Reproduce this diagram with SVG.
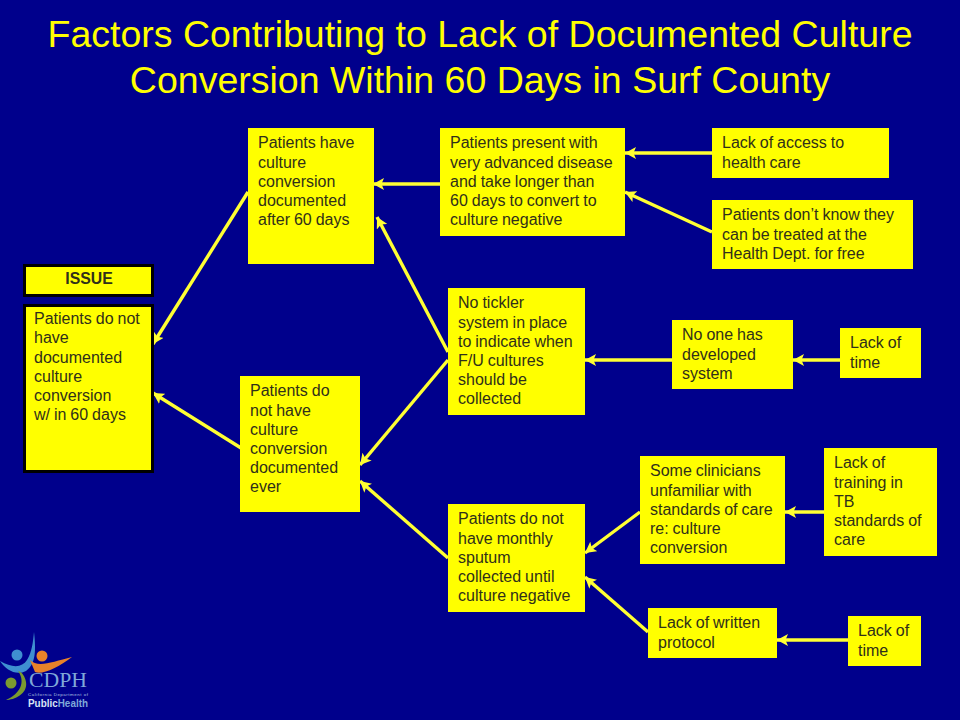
<svg xmlns="http://www.w3.org/2000/svg" width="960" height="720" viewBox="0 0 960 720">
<style>
text{font-family:"Liberation Sans",Arial,sans-serif}
.t{font-size:37.500px;fill:#ffff00;text-anchor:middle}
.b{fill:#ffff00}
.s{fill:#ffff00;stroke:#000;stroke-width:3}
.l{font-size:16px;fill:#30301a;word-spacing:-0.500px}
.c line{stroke:#ffff33;stroke-width:3.400;marker-end:url(#a)}
</style>
<defs><marker id="a" markerUnits="userSpaceOnUse" markerWidth="12" markerHeight="12" refX="11" refY="6" orient="auto"><path d="M0 0L11 6L0 12L2.500 6Z" fill="#ffff33"/></marker></defs>
<rect width="960" height="720" fill="#00008c"/>
<text class="t" x="480" y="47">Factors Contributing to Lack of Documented Culture</text>
<text class="t" x="480" y="93">Conversion Within 60 Days in Surf County</text>
<g class="c" id="connectors">
<line x1="248" y1="192" x2="153" y2="344"/>
<line x1="241" y1="448" x2="153" y2="393"/>
<line x1="440" y1="184" x2="373" y2="184"/>
<line x1="448" y1="352" x2="377" y2="217"/>
<line x1="448" y1="360" x2="360" y2="465"/>
<line x1="448" y1="558" x2="360" y2="481"/>
<line x1="712" y1="153" x2="625" y2="153"/>
<line x1="712" y1="232" x2="625" y2="192"/>
<line x1="672" y1="360" x2="585" y2="360"/>
<line x1="840" y1="360" x2="793" y2="360"/>
<line x1="640" y1="512" x2="585" y2="553"/>
<line x1="648" y1="632" x2="585" y2="577"/>
<line x1="824" y1="512" x2="785" y2="512"/>
<line x1="848" y1="640" x2="777" y2="640"/>
</g>
<g id="n-issue"><rect class="s" x="24.500" y="265.500" width="128" height="30"/><text x="89" y="284" font-weight="bold" fill="#30301a" text-anchor="middle" style="font-size:15.800px">ISSUE</text></g>
<g id="n-main"><rect class="s" x="24.500" y="305.500" width="128" height="166"/><text class="l"><tspan x="34" y="324">Patients do not</tspan><tspan x="34" y="343">have</tspan><tspan x="34" y="363">documented</tspan><tspan x="34" y="382">culture</tspan><tspan x="34" y="401">conversion</tspan><tspan x="34" y="420">w/ in 60 days</tspan></text></g>
<g id="n-after60"><rect class="b" x="248" y="128" width="126" height="136"/><text class="l"><tspan x="258" y="148">Patients have</tspan><tspan x="258" y="168">culture</tspan><tspan x="258" y="187">conversion</tspan><tspan x="258" y="206">documented</tspan><tspan x="258" y="225">after 60 days</tspan></text></g>
<g id="n-ever"><rect class="b" x="240" y="376" width="120" height="136"/><text class="l"><tspan x="250" y="396">Patients do</tspan><tspan x="250" y="416">not have</tspan><tspan x="250" y="435">culture</tspan><tspan x="250" y="454">conversion</tspan><tspan x="250" y="473">documented</tspan><tspan x="250" y="492">ever</tspan></text></g>
<g id="n-advanced"><rect class="b" x="440" y="128" width="185" height="108"/><text class="l"><tspan x="450" y="148">Patients present with</tspan><tspan x="450" y="168">very advanced disease</tspan><tspan x="450" y="187">and take longer than</tspan><tspan x="450" y="206">60 days to convert to</tspan><tspan x="450" y="225">culture negative</tspan></text></g>
<g id="n-tickler"><rect class="b" x="448" y="288" width="137" height="127"/><text class="l"><tspan x="458" y="308">No tickler</tspan><tspan x="458" y="328">system in place</tspan><tspan x="458" y="347">to indicate when</tspan><tspan x="458" y="366">F/U cultures</tspan><tspan x="458" y="385">should be</tspan><tspan x="458" y="404">collected</tspan></text></g>
<g id="n-sputum"><rect class="b" x="448" y="504" width="137" height="108"/><text class="l"><tspan x="458" y="524">Patients do not</tspan><tspan x="458" y="544">have monthly</tspan><tspan x="458" y="563">sputum</tspan><tspan x="458" y="582">collected until</tspan><tspan x="458" y="601">culture negative</tspan></text></g>
<g id="n-access"><rect class="b" x="712" y="128" width="177" height="50"/><text class="l"><tspan x="722" y="148">Lack of access to</tspan><tspan x="722" y="168">health care</tspan></text></g>
<g id="n-free"><rect class="b" x="712" y="200" width="201" height="69"/><text class="l"><tspan x="722" y="220">Patients don’t know they</tspan><tspan x="722" y="240">can be treated at the</tspan><tspan x="722" y="259">Health Dept. for free</tspan></text></g>
<g id="n-noone"><rect class="b" x="672" y="320" width="121" height="69"/><text class="l"><tspan x="682" y="340">No one has</tspan><tspan x="682" y="360">developed</tspan><tspan x="682" y="379">system</tspan></text></g>
<g id="n-time1"><rect class="b" x="840" y="328" width="81" height="50"/><text class="l"><tspan x="850" y="348">Lack of</tspan><tspan x="850" y="368">time</tspan></text></g>
<g id="n-clinicians"><rect class="b" x="640" y="456" width="145" height="108"/><text class="l"><tspan x="650" y="476">Some clinicians</tspan><tspan x="650" y="496">unfamiliar with</tspan><tspan x="650" y="515">standards of care</tspan><tspan x="650" y="534">re: culture</tspan><tspan x="650" y="553">conversion</tspan></text></g>
<g id="n-training"><rect class="b" x="824" y="448" width="113" height="108"/><text class="l"><tspan x="834" y="468">Lack of</tspan><tspan x="834" y="488">training in</tspan><tspan x="834" y="507">TB</tspan><tspan x="834" y="526">standards of</tspan><tspan x="834" y="545">care</tspan></text></g>
<g id="n-protocol"><rect class="b" x="648" y="608" width="129" height="50"/><text class="l"><tspan x="658" y="628">Lack of written</tspan><tspan x="658" y="648">protocol</tspan></text></g>
<g id="n-time2"><rect class="b" x="848" y="616" width="73" height="50"/><text class="l"><tspan x="858" y="636">Lack of</tspan><tspan x="858" y="656">time</tspan></text></g>
<g id="logo">
<path d="M0 661C12 668 22 668 27 660C32 652 33 642 34 632C36 650 36 664 26 671C16 676 6 670 0 661Z" fill="#3f8fd0"/>
<path d="M30 660C38 668 52 662 72 657C58 668 42 675 35 672Z" fill="#e8822a"/>
<circle cx="17" cy="655" r="5.500" fill="#3f8fd0"/><circle cx="42" cy="656" r="5.500" fill="#e8822a"/>
<circle cx="11" cy="683" r="5.500" fill="#7a9a30"/>
<path d="M18 671C26 682 20 694 6 700C14 700 28 694 26 682C25 676 22 672 18 671Z" fill="#7a9a30"/>
<text x="29" y="687" font-size="21" fill="#7fa8d8" style="font-family:'Liberation Serif',serif" textLength="58" lengthAdjust="spacingAndGlyphs">CDPH</text>
<text x="28" y="695.500" font-size="4.400" fill="#b0c4e0" textLength="60">California Department of</text>
<text x="28" y="706.500" font-size="10" font-weight="bold" fill="#d8e4f4" textLength="60" lengthAdjust="spacingAndGlyphs">Public<tspan fill="#7fa8d8">Health</tspan></text>
</g>
</svg>
